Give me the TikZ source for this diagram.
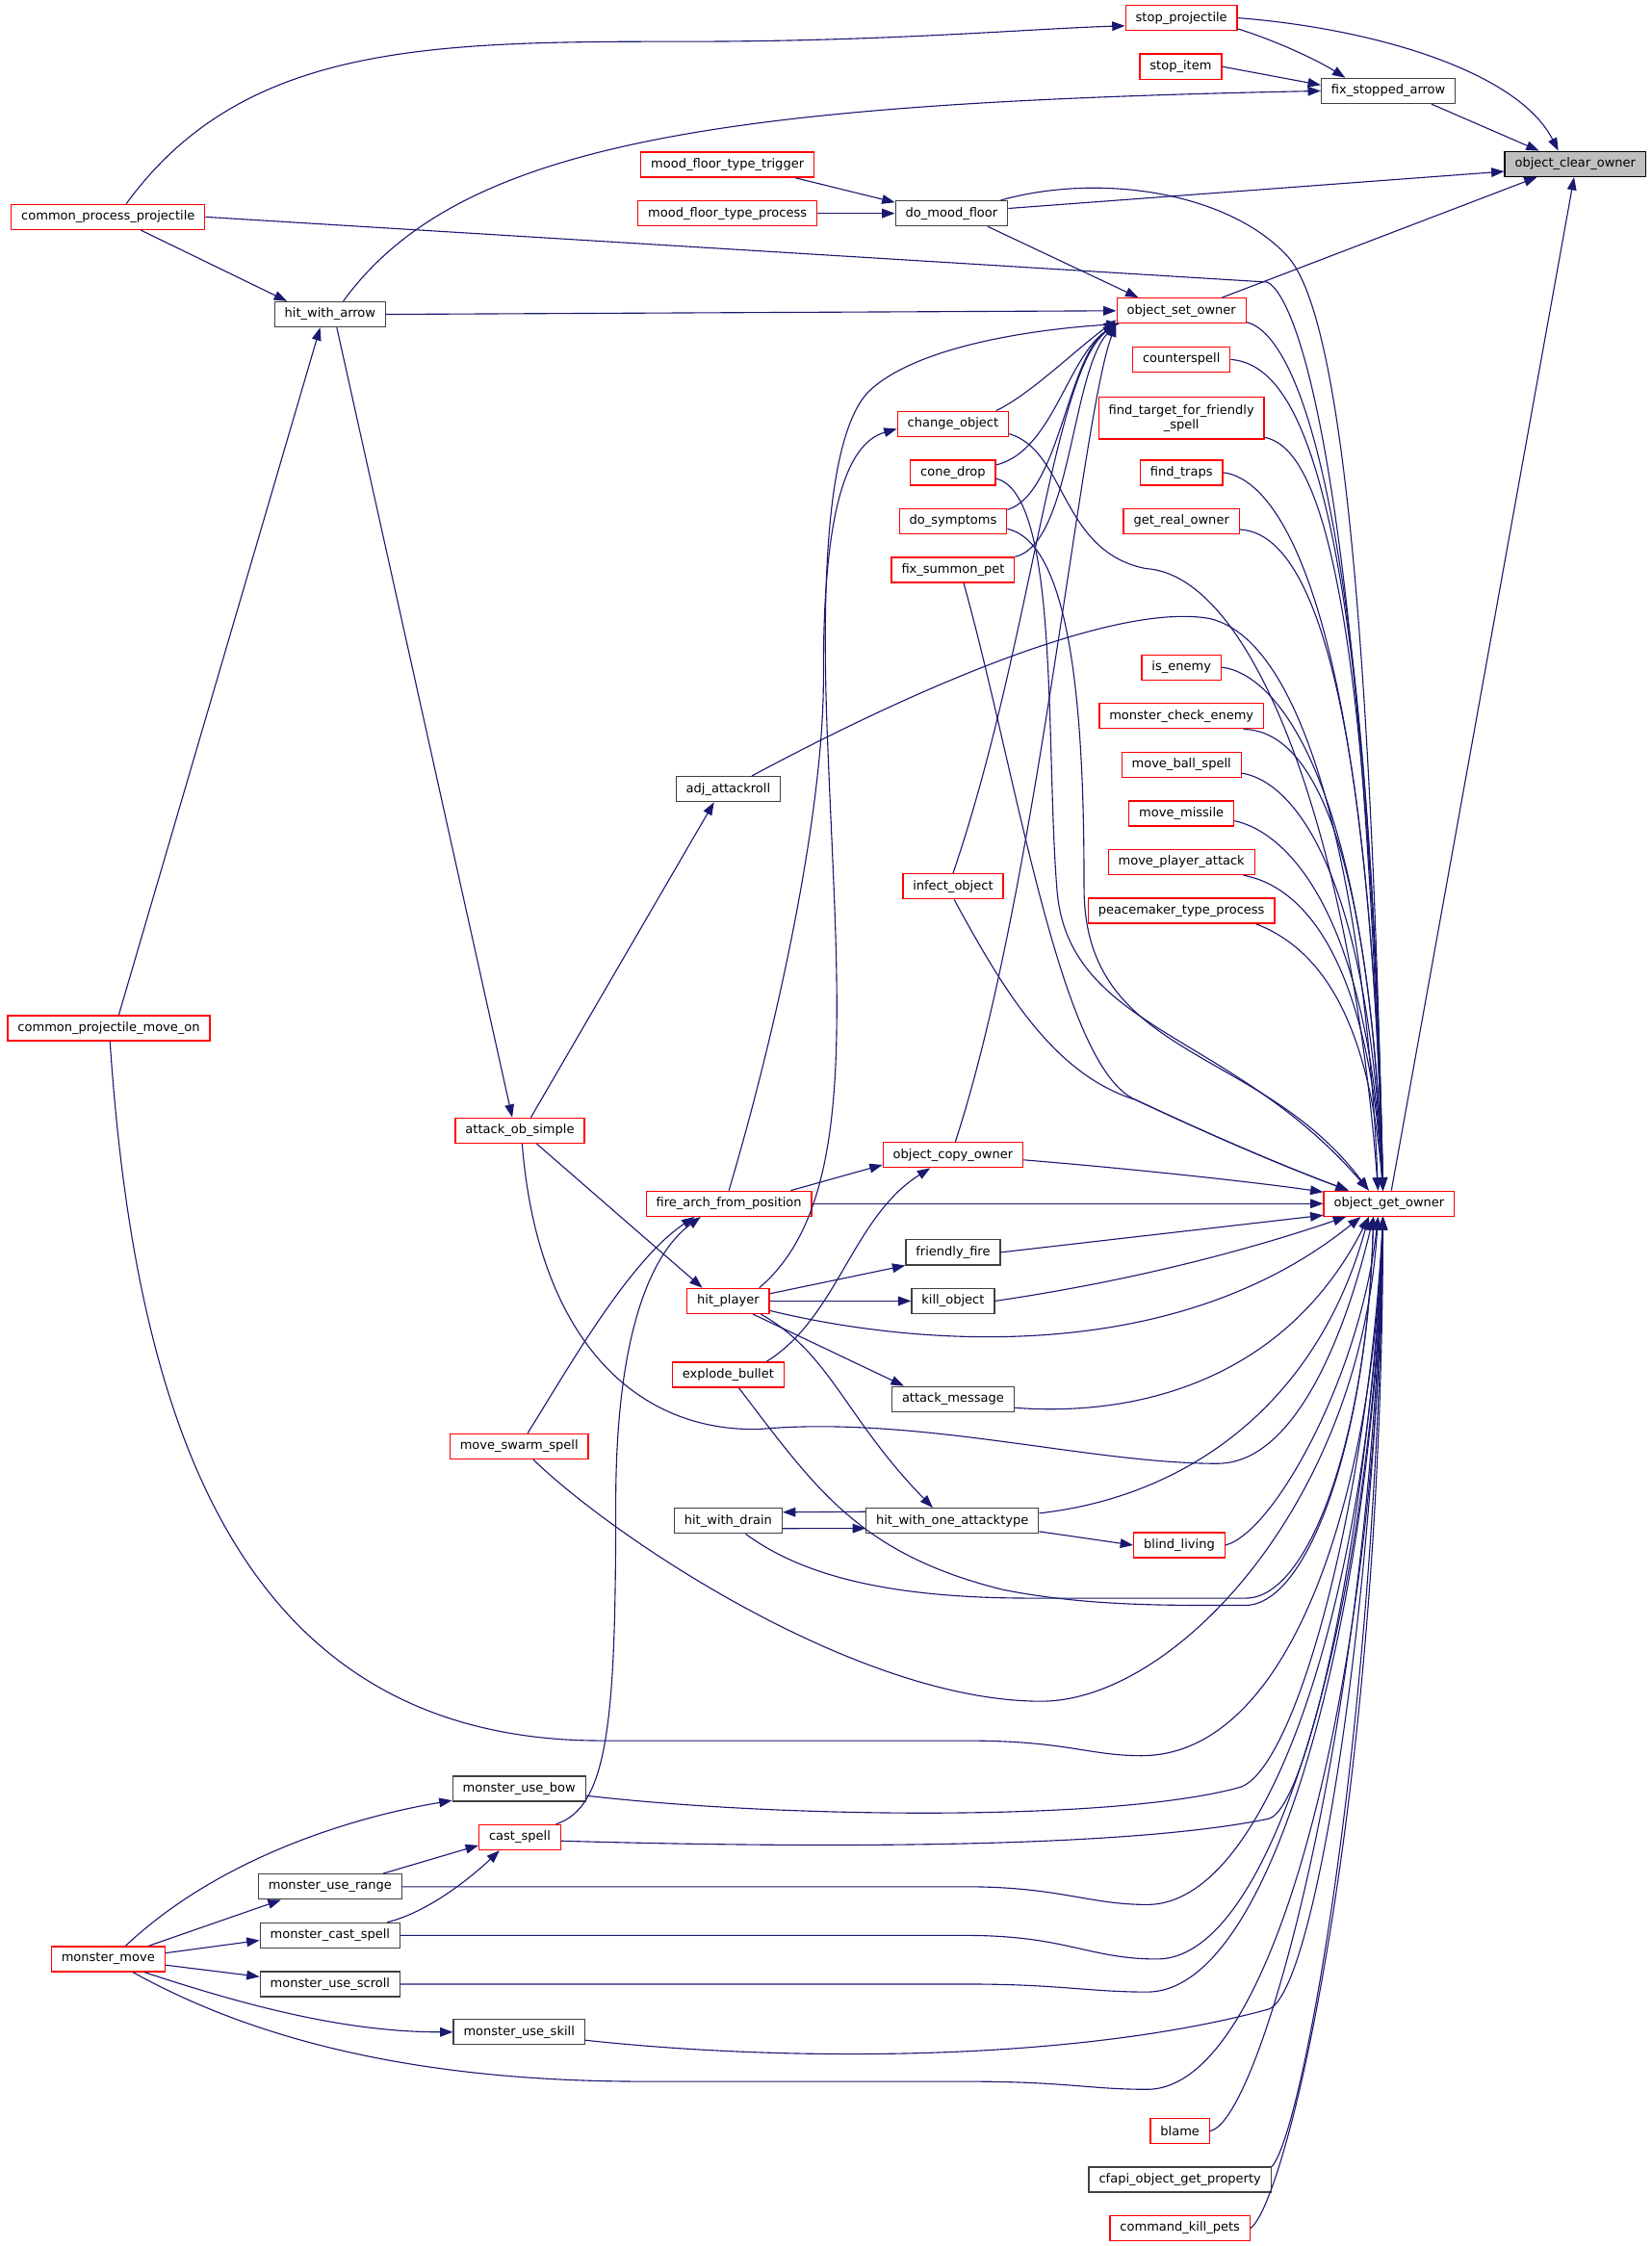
\documentclass[tikz,border=0pt]{standalone}
\usepackage{fontspec}
\setmainfont{DejaVu Sans}
\usetikzlibrary{arrows.meta}
\definecolor{blunotte}{HTML}{191970}

\begin{document}
\begin{tikzpicture}[x=1pt, y=-1pt,
    every node/.style={rectangle, draw, line width=0.9pt, fill=white,
      inner xsep=7pt, inner ysep=2pt, minimum height=17.5pt,
      font=\fontsize{8.75}{10}\selectfont},
    rosso/.style={draw=red},
    nero/.style={draw=black!75},
    radice/.style={draw=black, fill=black!25},
    freccia/.style={draw=blunotte, line width=0.75pt, -{Triangle[length=9pt, width=6.5pt]}}]
  \useasboundingbox (0,0) rectangle (1153,1568.4);

  % Radice e parte alta
  \node (OCO) at (1100,114.5) [radice] {object\_clear\_owner};
  \node (SP) at (825,12.5) [rosso] {stop\_projectile};
  \node (SI) at (824.5,46.5) [rosso] {stop\_item};
  \node (FSA) at (969.5,63.5) [nero] {fix\_stopped\_arrow};
  \node (MFT) at (508,115) [rosso] {mood\_floor\_type\_trigger};
  \node (MFP) at (508,149) [rosso] {mood\_floor\_type\_process};
  \node (DMF) at (664.5,149) [nero] {do\_mood\_floor};
  \node (CPP) at (75.5,151.5) [rosso] {common\_process\_projectile};
  \node (HWA) at (230.5,219.5) [nero] {hit\_with\_arrow};
  \node (OSO) at (825,217) [rosso] {object\_set\_owner};

  % Colonna di destra
  \node (CS) at (825,251) [rosso] {counterspell};
  \node (FTF) at (825,292) [rosso, align=center, minimum height=29pt] {find\_target\_for\_friendly\\\_spell};
  \node (FT) at (825,330) [rosso] {find\_traps};
  \node (GRO) at (825,364) [rosso] {get\_real\_owner};
  \node (IE) at (825,466) [rosso] {is\_enemy};
  \node (MCE) at (825,500) [rosso] {monster\_check\_enemy};
  \node (MBS) at (825,534) [rosso] {move\_ball\_spell};
  \node (MM) at (825,568) [rosso] {move\_missile};
  \node (MPA) at (825,602) [rosso] {move\_player\_attack};
  \node (PTP) at (825,636) [rosso] {peacemaker\_type\_process};
  \node (BL) at (823.5,1079) [rosso] {blind\_living};
  \node (BLM) at (824,1488) [rosso] {blame};
  \node (CFP) at (824,1522) [nero] {cfapi\_object\_get\_property};
  \node (CKP) at (824,1556) [rosso] {command\_kill\_pets};

  % Colonna centrale
  \node (CO) at (665.5,296) [rosso] {change\_object};
  \node (CD) at (665.5,330) [rosso] {cone\_drop};
  \node (DS) at (665.5,364) [rosso] {do\_symptoms};
  \node (FSP) at (665.5,398) [rosso] {fix\_summon\_pet};
  \node (IO) at (665.5,619) [rosso] {infect\_object};
  \node (OCP) at (665.5,806.5) [rosso] {object\_copy\_owner};
  \node (FF) at (665.5,874.5) [nero] {friendly\_fire};
  \node (KO) at (665.5,908.5) [nero] {kill\_object};
  \node (AM) at (665.5,977) [nero] {attack\_message};
  \node (HOA) at (665,1062) [nero] {hit\_with\_one\_attacktype};
  \node (OGO) at (970,840.5) [rosso] {object\_get\_owner};

  % Colonne di sinistra
  \node (AAR) at (508.5,551) [nero] {adj\_attackroll};
  \node (FAP) at (509,840.5) [rosso] {fire\_arch\_from\_position};
  \node (HP) at (508.5,908.5) [rosso] {hit\_player};
  \node (EB) at (508.5,960) [rosso] {explode\_bullet};
  \node (HWD) at (508.5,1062) [nero] {hit\_with\_drain};
  \node (CPM) at (76,718) [rosso] {common\_projectile\_move\_on};
  \node (AOS) at (363,789.5) [rosso] {attack\_ob\_simple};
  \node (MSS) at (362.5,1010) [rosso] {move\_swarm\_spell};
  \node (MUB) at (362.5,1249) [nero] {monster\_use\_bow};
  \node (CSP) at (363,1283) [rosso] {cast\_spell};
  \node (MUK) at (362.5,1419) [nero] {monster\_use\_skill};
  \node (MUR) at (230.5,1317.5) [nero] {monster\_use\_range};
  \node (MCS) at (230.5,1351.5) [nero] {monster\_cast\_spell};
  \node (MUS) at (230.5,1385.5) [nero] {monster\_use\_scroll};
  \node (MMV) at (75.5,1368) [rosso] {monster\_move};

  % Collegamenti verso object_clear_owner
  \draw[freccia] (SP.east) .. controls (960,20) and (1060,50) .. (OCO.142);
  \draw[freccia] (FSA.-17) -- (OCO.160);
  \draw[freccia] (DMF.5) -- (OCO.186);
  \draw[freccia] (OSO.18) -- (OCO.199);
  \draw[freccia] (OGO.80) -- (OCO.265);

  % Collegamenti in alto
  \draw[freccia] (SP.-11) .. controls (890,28) and (920,42) .. (FSA.163);
  \draw[freccia] (SI.east) -- (FSA.175);
  \draw[freccia] (HWA.45) .. controls (320,100) and (500,72) .. (FSA.west);
  \draw[freccia] (CPP.36) .. controls (170,30) and (300,29) .. (480,29) .. controls (620,29) and (720,20) .. (SP.188);
  \draw[freccia] (MFT.-11) -- (DMF.169);
  \draw[freccia] (MFP.east) -- (DMF.west);
  \draw[freccia] (CPP.-22) -- (HWA.163);
  \draw[freccia] (CPM.53) -- (HWA.233);

  % Collegamenti verso object_set_owner
  \draw[freccia] (DMF.-20) -- (OSO.163);
  \draw[freccia] (HWA.east) -- (OSO.west);
  \draw[freccia] (CO.17) .. controls (720,275) and (750,245) .. (OSO.188);
  \draw[freccia] (CD.10) .. controls (735,315) and (745,250) .. (OSO.south west);
  \draw[freccia] (DS.12) .. controls (740,345) and (745,250) .. (OSO.south west);
  \draw[freccia] (FSP.12) .. controls (748,380) and (748,260) .. (OSO.south west);
  \draw[freccia] (IO.north) .. controls (720,450) and (735,260) .. (OSO.south west);
  \draw[freccia] (OCP.80) .. controls (725,620) and (755,290) .. (OSO.south west);
  \draw[freccia] (HP.23) .. controls (600,840) and (585,700) .. (578,520) .. controls (572,380) and (582,298) .. (607,273) .. controls (640,242) and (720,230) .. (OSO.192);
  \draw[freccia] (FAP.north) .. controls (545,710) and (576,560) .. (575,470) .. controls (575,360) and (590,310) .. (CO.185);

  % Collegamenti centrali
  \draw[freccia] (AOS.50) -- (AAR.223);
  \draw[freccia] (HWA.-63) -- (AOS.120);
  \draw[freccia] (AOS.-38) -- (HP.153);
  \draw[freccia] (CSP.20) .. controls (425,1262) and (430,1200) .. (430,1050) .. controls (430,930) and (455,875) .. (FAP.205);
  \draw[freccia] (MSS.57) .. controls (400,950) and (440,880) .. (FAP.201);
  \draw[freccia] (FAP.12) -- (OCP.188);
  \draw[freccia] (EB.19) .. controls (585,920) and (595,850) .. (OCP.210);
  \draw[freccia] (HP.10) -- (FF.south west);
  \draw[freccia] (HP.east) -- (KO.west);
  \draw[freccia] (HP.-28) -- (AM.165);
  \draw[freccia] (HP.-22) .. controls (580,945) and (590,990) .. (HOA.146);
  \draw[freccia] (HOA.174) -- (HWD.9);
  \draw[freccia] (HWD.-8) -- (HOA.185);
  \draw[freccia] (HOA.-7) -- (BL.west);

  % Collegamenti di monster_move
  \draw[freccia] (MMV.37) .. controls (150,1300) and (240,1270) .. (MUB.190);
  \draw[freccia] (MMV.18) -- (MUR.195);
  \draw[freccia] (MMV.6) -- (MCS.184);
  \draw[freccia] (MMV.-6) -- (MUS.174);
  \draw[freccia] (MMV.-20) .. controls (170,1400) and (240,1419) .. (MUK.west);
  \draw[freccia] (MUR.14) -- (CSP.191);
  \draw[freccia] (MCS.13) .. controls (300,1335) and (330,1310) .. (CSP.213);

  % Collegamenti verso object_get_owner, dall'alto
  \draw[freccia] (CPP.east) -- (885,197) .. controls (905,207) and (950,320) .. (OGO.115);
  \draw[freccia] (DMF.15) .. controls (770,120) and (860,135) .. (900,180) .. controls (925,210) and (955,330) .. (OGO.115);
  \draw[freccia] (OSO.-10) .. controls (900,232) and (955,320) .. (OGO.115);
  \draw[freccia] (CS.east) .. controls (905,255) and (955,330) .. (OGO.115);
  \draw[freccia] (FTF.-13) .. controls (915,312) and (955,380) .. (OGO.115);
  \draw[freccia] (FT.east) .. controls (890,334) and (955,410) .. (OGO.115);
  \draw[freccia] (GRO.-8) .. controls (905,372) and (955,440) .. (OGO.115);
  \draw[freccia] (IE.east) .. controls (890,470) and (955,540) .. (OGO.115);
  \draw[freccia] (MCE.-12) .. controls (910,510) and (955,570) .. (OGO.115);
  \draw[freccia] (MBS.-8) .. controls (900,545) and (955,600) .. (OGO.115);
  \draw[freccia] (MM.-8) .. controls (895,580) and (955,630) .. (OGO.115);
  \draw[freccia] (MPA.-12) .. controls (905,618) and (955,660) .. (OGO.115);
  \draw[freccia] (PTP.-10) .. controls (915,660) and (955,700) .. (OGO.115);
  \draw[freccia] (CO.-10) .. controls (745,315) and (740,385) .. (800,397) .. controls (880,402) and (945,600) .. (OGO.130);
  \draw[freccia] (CD.-8) .. controls (740,345) and (730,520) .. (738,620) .. controls (745,720) and (860,720) .. (OGO.147);
  \draw[freccia] (DS.-8) .. controls (752,380) and (757,520) .. (757,620) .. controls (757,740) and (880,730) .. (OGO.147);
  \draw[freccia] (AAR.29) .. controls (640,480) and (780,420) .. (845,432) .. controls (920,450) and (955,650) .. (OGO.130);
  \draw[freccia] (FSP.-51) .. controls (710,540) and (740,745) .. (793,768) .. controls (840,790) and (890,812) .. (OGO.162);
  \draw[freccia] (IO.-85) .. controls (700,690) and (735,750) .. (793,768) .. controls (840,790) and (890,812) .. (OGO.162);

  % Collegamenti verso object_get_owner, da sinistra
  \draw[freccia] (OCP.-4) .. controls (800,817) and (880,826) .. (OGO.170);
  \draw[freccia] (FAP.east) -- (OGO.west);
  \draw[freccia] (FF.east) -- (OGO.190);
  \draw[freccia] (KO.east) .. controls (800,893) and (880,870) .. (OGO.197);
  \draw[freccia] (HP.-13) .. controls (640,940) and (820,955) .. (OGO.205);
  \draw[freccia] (AM.-8) .. controls (800,990) and (900,960) .. (OGO.213);
  \draw[freccia] (HOA.5) .. controls (830,1045) and (920,980) .. (OGO.213);
  \draw[freccia] (BL.east) .. controls (890,1070) and (950,960) .. (OGO.230);
  \draw[freccia] (AOS.-80) .. controls (375,930) and (440,1000) .. (530,998) .. controls (640,988) and (760,1022) .. (850,1022) .. controls (905,1022) and (940,930) .. (OGO.220);
  \draw[freccia] (EB.-51) .. controls (570,1040) and (600,1085) .. (700,1110) .. controls (760,1122) and (820,1121) .. (870,1121) .. controls (915,1120) and (955,1000) .. (OGO.220);
  \draw[freccia] (HWD.-37) .. controls (560,1100) and (620,1116) .. (720,1116) -- (870,1116) .. controls (915,1116) and (955,1000) .. (OGO.220);
  \draw[freccia] (MSS.-43) .. controls (430,1075) and (600,1188) .. (727,1188) .. controls (820,1188) and (950,1050) .. (OGO.230);

  % Collegamenti verso object_get_owner, dal basso
  \draw[freccia] (CPM.-85) .. controls (95,1000) and (170,1215.5) .. (420,1215.5) -- (674,1215.5) .. controls (745,1215.5) and (760,1226) .. (797,1226) .. controls (900,1226) and (958,1050) .. (OGO.245);
  \draw[freccia] (MUB.-6) .. controls (550,1270) and (780,1272) .. (866,1248) .. controls (905,1235) and (955,1050) .. (OGO.245);
  \draw[freccia] (CSP.-5) .. controls (550,1290) and (780,1292) .. (886,1270) .. controls (915,1262) and (958,1050) .. (OGO.245);
  \draw[freccia] (MUR.east) -- (674,1317.5) .. controls (740,1317.5) and (760,1330) .. (801,1330) .. controls (890,1330) and (958,1100) .. (OGO.245);
  \draw[freccia] (MCS.east) -- (674,1351.5) .. controls (745,1351.5) and (760,1368) .. (808,1368) .. controls (895,1368) and (960,1100) .. (OGO.245);
  \draw[freccia] (MUS.east) -- (674,1385.5) .. controls (740,1385.5) and (760,1391) .. (801,1391) .. controls (895,1391) and (961,1100) .. (OGO.245);
  \draw[freccia] (MUK.-7) .. controls (550,1440) and (750,1440) .. (886,1403) .. controls (920,1390) and (962,1100) .. (OGO.245);
  \draw[freccia] (MMV.-28) .. controls (170,1420) and (280,1453.5) .. (450,1453.5) -- (674,1453.5) .. controls (745,1453.5) and (760,1459) .. (801,1459) .. controls (895,1459) and (963,1150) .. (OGO.245);
  \draw[freccia] (BLM.east) .. controls (880,1482) and (958,1200) .. (OGO.245);
  \draw[freccia] (CFP.8) .. controls (910,1490) and (962,1200) .. (OGO.245);
  \draw[freccia] (CKP.east) .. controls (900,1535) and (965,1250) .. (OGO.245);
\end{tikzpicture}
\end{document}
